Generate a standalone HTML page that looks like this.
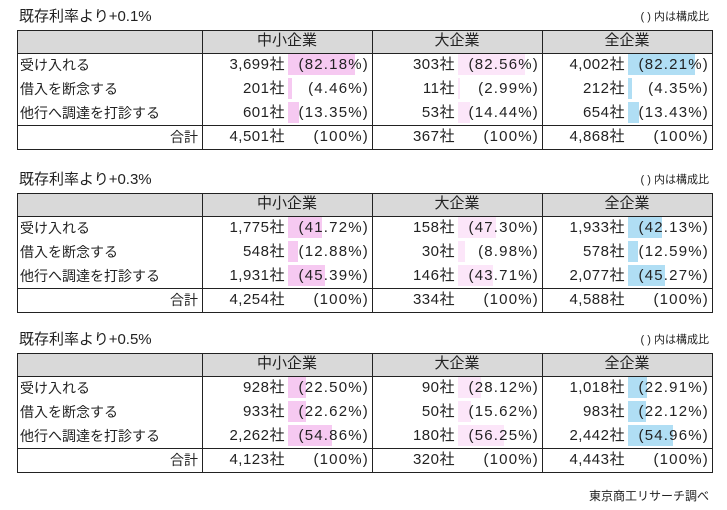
<!DOCTYPE html>
<html><head><meta charset="utf-8">
<style>
body{margin:0;background:#fff;width:727px;height:510px;overflow:hidden;position:relative;font-family:"Liberation Sans","Noto Sans CJK JP",sans-serif;color:#222;}
.a{position:absolute;white-space:nowrap;font-size:14px;line-height:24px;}
.num{font-size:15px;letter-spacing:0.5px;}
.pct{font-size:15px;letter-spacing:1.2px;}
</style></head>
<body>
<div id="root"></div>
<script>
const titles = ['既存利率より+0.1%','既存利率より+0.3%','既存利率より+0.5%'];
const groups = ['中小企業','大企業','全企業'];
const rowLabels = ['受け入れる','借入を断念する','他行へ調達を打診する'];
const counts = [
  [['3,699','201','601'],['303','11','53'],['4,002','212','654']],
  [['1,775','548','1,931'],['158','30','146'],['1,933','578','2,077']],
  [['928','933','2,262'],['90','50','180'],['1,018','983','2,442']]
];
const pcts = [
  [[82.18,4.46,13.35],[82.56,2.99,14.44],[82.21,4.35,13.43]],
  [[41.72,12.88,45.39],[47.30,8.98,43.71],[42.13,12.59,45.27]],
  [[22.50,22.62,54.86],[28.12,15.62,56.25],[22.91,22.12,54.96]]
];
const totals = [['4,501','367','4,868'],['4,254','334','4,588'],['4,123','320','4,443']];

const root = document.getElementById('root');
const tops = [30,193,353];
const colX = [17,202,372,542,712];
const barColors = ['#f6c9f1','#fce6f9','#b0def4'];
function box(x,y,w,h,bg,name){const d=document.createElement('div');d.style.cssText=`position:absolute;left:${x}px;top:${y}px;width:${w}px;height:${h}px;background:${bg}`;


root.appendChild(d);return d;}
function txt(s,x,y,align,name,w,cls){const d=document.createElement('div');d.className='a'+(cls?' '+cls:'');d.textContent=s;
if(align==='r'){d.style.right=(727-x)+'px';}else if(align==='c'){d.style.left=x+'px';d.style.width=w+'px';d.style.textAlign='center';}else{d.style.left=x+'px';}
d.style.top=y+'px';


root.appendChild(d);return d;}
function fmt(v){return '('+v.toFixed(2)+'%)';}
titles.forEach((t,ti)=>{
  const T=tops[ti];
  const tt=txt(t,19,T-25,'l','table-title');tt.style.fontSize='15px';
  const n=txt('( ) 内は構成比',709,T-25,'r','note');n.style.fontSize='11px';
  box(17,T,695,23,'#d9d9d9','header-row');
  const rowH=24, H=23+rowH*4;
  rowLabels.forEach((lab,ri)=>{
    const y=T+23+ri*rowH;
    txt(lab,20,y,'l','row-label');
    groups.forEach((g,gi)=>{
      const bx=colX[gi+1]+86;
      box(bx,y+1,pcts[ti][gi][ri]*0.81,rowH-3,barColors[gi],'pct-bar');
      txt(counts[ti][gi][ri]+'社',bx-3,y,'r','count-value',0,'num');
      txt(fmt(pcts[ti][gi][ri]),colX[gi+2]-3,y,'r','pct-value',0,'pct');
    });
  });
  const yt=T+23+rowH*3;
  txt('合計',colX[1]-4,yt,'r','total-label');
  groups.forEach((g,gi)=>{
    const h=txt(g,colX[gi+1],T-1,'c','group-header',colX[gi+2]-colX[gi+1]);h.style.fontSize='15px';
    txt(totals[ti][gi]+'社',colX[gi+1]+83,yt,'r','total-count',0,'num');
    txt('(100%)',colX[gi+2]-3,yt,'r','total-pct',0,'pct');
  });
  box(17,T,696,1,'#222','border-top');
  box(17,T+23,696,1,'#222','header-border');
  box(17,yt,696,1,'#222','total-border');
  box(17,T+H,696,1,'#222','border-bottom');
  colX.forEach(x=>box(x,T,1,H+1,'#222','col-line'));
});
const s=txt('東京商工リサーチ調べ',709,484,'r','source-note');s.style.fontSize='12px';
</script>
</body></html>
